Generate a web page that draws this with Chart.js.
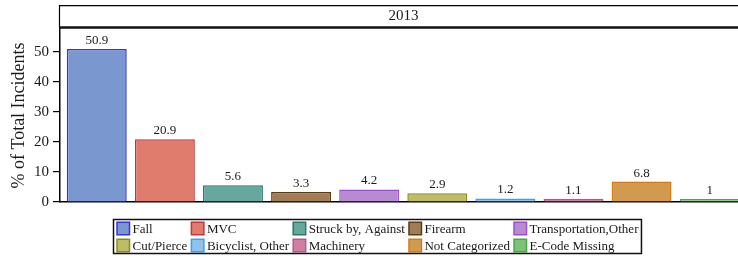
<!DOCTYPE html>
<html>
<head>
<meta charset="utf-8">
<script src="https://cdn.jsdelivr.net/npm/chart.js@4.4.1/dist/chart.umd.min.js"></script>
<style>
  html, body { margin: 0; padding: 0; background: #ffffff; }
  #wrap { width: 738px; height: 258px; }
</style>
</head>
<body>
<div id="wrap"><canvas id="injuryChart" width="738" height="258"></canvas></div>
<script>
// 資料
const categories = ['Fall', 'MVC', 'Struck by, Against', 'Firearm', 'Transportation,Other',
                    'Cut/Pierce', 'Bicyclist, Other', 'Machinery', 'Not Categorized', 'E-Code Missing'];
const percentValues = [50.9, 20.9, 5.6, 3.3, 4.2, 2.9, 1.2, 1.1, 6.8, 1];
const yTickValues = [0, 10, 20, 30, 40, 50];
const panelLabel = '2013';
const fillColors = ['#7b97cf', '#e07c6d', '#66a89e', '#a07d56', '#b88bd0',
                    '#bcbd64', '#8fc3ed', '#cf7fa3', '#d29a4f', '#7cc277'];
const borderColors = ['#3434e0', '#c8323a', '#2a7a6c', '#5a3b14', '#9b4fd6',
                      '#8b8b22', '#3ba2f0', '#b35a85', '#d47a12', '#4aa745'];

const SERIF = "'Liberation Serif', 'Times New Roman', serif";

// 面板標題、數值標籤、圖例
const decorations = {
    id: 'decorations',
    afterDatasetsDraw(chart) {
        const ctx = chart.ctx;
        const meta = chart.getDatasetMeta(0);

        // 數值標籤
        ctx.save();
        ctx.fillStyle = '#1a1a1a';
        ctx.font = '13px ' + SERIF;
        ctx.textAlign = 'center';
        ctx.textBaseline = 'alphabetic';
        meta.data.forEach((bar, i) => {
            ctx.fillText(String(percentValues[i]), bar.x, bar.y - 5);
        });
        ctx.restore();
    },
    afterDraw(chart) {
        const ctx = chart.ctx;

        // 面板標題條
        ctx.save();
        ctx.strokeStyle = '#000';
        ctx.lineWidth = 1.2;
        ctx.beginPath();
        ctx.moveTo(59.5, 28);
        ctx.lineTo(59.5, 5.7);
        ctx.lineTo(740, 5.7);
        ctx.stroke();
        ctx.lineWidth = 2.5;
        ctx.strokeStyle = '#111';
        ctx.beginPath();
        ctx.moveTo(59, 27.5);
        ctx.lineTo(740, 27.5);
        ctx.stroke();
        ctx.fillStyle = '#1a1a1a';
        ctx.font = '15px ' + SERIF;
        ctx.textAlign = 'center';
        ctx.textBaseline = 'middle';
        ctx.fillText(panelLabel, 403.5, 16);

        // 圖例
        const ds = chart.data.datasets[0];
        ctx.font = '13px ' + SERIF;
        const cols = 5;
        const box = 12.5;
        const left = 113.5;
        const rowsY = [228.5, 245.5];
        let x = left + 3.5;
        for (let c = 0; c < cols; c++) {
            let maxW = 0;
            for (let r = 0; r < 2; r++) {
                const i = r * cols + c;
                if (i >= categories.length) continue;
                const cy = rowsY[r];
                ctx.fillStyle = ds.backgroundColor[i];
                ctx.fillRect(x, cy - box / 2, box, box);
                ctx.strokeStyle = ds.borderColor[i];
                ctx.lineWidth = 1.5;
                ctx.strokeRect(x, cy - box / 2, box, box);
                ctx.fillStyle = '#1a1a1a';
                ctx.textAlign = 'left';
                ctx.textBaseline = 'middle';
                ctx.fillText(categories[i], x + box + 3, cy + 1);
                maxW = Math.max(maxW, ctx.measureText(categories[i]).width);
            }
            x += box + 3 + maxW + 4;
        }
        ctx.strokeStyle = '#111';
        ctx.lineWidth = 1.5;
        ctx.strokeRect(left, 219.5, x - left - 1, 34);
        ctx.restore();
    }
};

new Chart(document.getElementById('injuryChart'), {
    type: 'bar',
    data: {
        datasets: [{
            data: percentValues.map((v, i) => ({ x: i, y: v })),
            backgroundColor: fillColors,
            borderColor: borderColors,
            borderWidth: 1.5,
            barPercentage: 0.88,
            categoryPercentage: 1
        }]
    },
    options: {
        responsive: false,
        animation: false,
        devicePixelRatio: 1,
        layout: { padding: { top: 29, bottom: 56, left: 0, right: 0 } },
        plugins: {
            legend: { display: false },
            tooltip: { enabled: false }
        },
        scales: {
            x: {
                type: 'linear',
                min: -0.54,
                max: 9.416,
                offset: false,
                ticks: { display: false },
                grid: { display: false, drawTicks: false, offset: false },
                border: { display: true, color: '#000', width: 1.5 },
                afterFit(scale) { scale.height = 0; }
            },
            y: {
                min: 0,
                max: 57.6,
                afterBuildTicks(scale) {
                    scale.ticks = yTickValues.map(v => ({ value: v }));
                },
                ticks: {
                    color: '#1a1a1a',
                    font: { family: SERIF, size: 15 },
                    padding: 4
                },
                grid: {
                    drawOnChartArea: false,
                    drawTicks: true,
                    tickLength: 7,
                    color: '#000',
                    lineWidth: 1.2
                },
                border: { display: true, color: '#000', width: 1.5 },
                title: {
                    display: true,
                    text: '% of Total Incidents',
                    color: '#1a1a1a',
                    font: { family: SERIF, size: 18 },
                    padding: { top: 8, bottom: 0 }
                },
                afterFit(scale) { scale.width = 60; }
            }
        }
    },
    plugins: [decorations]
});
</script>
</body>
</html>
